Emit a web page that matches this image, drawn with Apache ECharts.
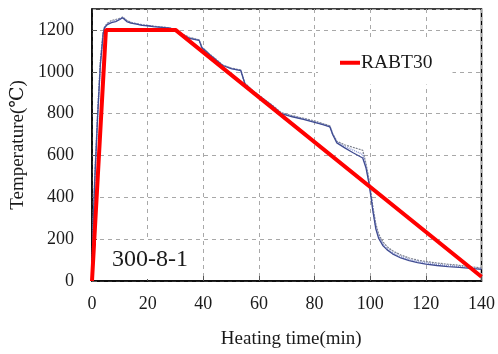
<!DOCTYPE html>
<html>
<head>
<meta charset="utf-8">
<script src="https://cdn.jsdelivr.net/npm/echarts@6/dist/echarts.min.js"></script>
<style>
html, body { margin: 0; padding: 0; background: #fff; }
#chart { width: 498px; height: 354px; }
</style>
</head>
<body>
<div id="chart"></div>
<script>
// RABT30 standard curve
var rabtTime = [0, 5, 30, 140];
var rabtTemp = [0, 1200, 1200, 20];

var tcTime = [0, 0.5, 1, 2, 3, 4, 4.5, 5.5, 7, 8.5, 10, 11, 12.5, 14, 16, 18, 20, 22, 25, 28, 29.5,
  32, 35, 38.5, 39.5, 42, 45, 47, 50, 53.5, 55, 58, 62, 65, 68, 72, 76, 80, 83, 85.5, 86.5, 88,
  91, 94, 97.3, 98.5, 99.5, 100.3, 101, 102, 103, 104.5, 106, 108, 111, 114, 117, 120, 124, 128,
  132, 136, 140];
var tc1Temp = [20, 300, 480, 780, 1030, 1180, 1210, 1225, 1235, 1240, 1250, 1258, 1240, 1232, 1228,
  1222, 1220, 1216, 1212, 1208, 1200, 1180, 1160, 1150, 1115, 1085, 1052, 1030, 1015, 1005, 940,
  905, 865, 835, 800, 785, 772, 758, 747, 737, 700, 660, 635, 612, 588, 540, 470, 400, 330, 250,
  205, 170, 150, 130, 110, 97, 88, 81, 74, 69, 65, 60, 56];
var tc2Temp = [20, 320, 500, 800, 1050, 1190, 1215, 1232, 1245, 1250, 1255, 1262, 1246, 1236, 1230,
  1225, 1222, 1218, 1214, 1210, 1202, 1184, 1165, 1152, 1118, 1088, 1055, 1032, 1018, 1008, 945,
  908, 868, 838, 805, 790, 778, 765, 752, 742, 705, 668, 650, 638, 625, 560, 490, 420, 350, 275,
  225, 188, 165, 145, 124, 110, 100, 93, 86, 80, 75, 68, 62];
var tc3Temp = [20, 310, 490, 790, 1040, 1185, 1212, 1228, 1240, 1245, 1252, 1260, 1243, 1234, 1229,
  1224, 1221, 1217, 1213, 1209, 1201, 1182, 1162, 1151, 1116, 1086, 1053, 1031, 1016, 1006, 942,
  906, 866, 836, 802, 787, 775, 761, 749, 739, 702, 664, 642, 625, 605, 550, 480, 410, 340, 262,
  215, 178, 157, 137, 117, 103, 94, 87, 80, 74, 70, 64, 59];

var xTicks = [0, 20, 40, 60, 80, 100, 120, 140];
var yTicks = [0, 200, 400, 600, 800, 1000, 1200];

function pairs(xs, ys) {
  return xs.map(function (x, i) { return [x, ys[i]]; });
}

var serif = "'Liberation Serif', 'DejaVu Serif', 'Noto Sans CJK SC', serif";
var chart = echarts.init(document.getElementById("chart"));

var option = {
  animation: false,
  textStyle: { fontFamily: serif },
  title: {
    text: "300-8-1",
    left: 96,
    top: 240,
    padding: [8, 15, 7, 16],
    backgroundColor: "#fff",
    textStyle: { fontFamily: serif, fontSize: 24, fontWeight: "normal", color: "#1a1a1a" }
  },
  legend: {
    data: ["RABT30"],
    left: 318,
    top: 41,
    padding: [12, 20, 12, 22],
    backgroundColor: "#fff",
    itemWidth: 20,
    itemHeight: 4,
    itemGap: 4,
    icon: "rect",
    textStyle: { fontFamily: serif, fontSize: 19.5, color: "#1a1a1a", padding: [0, 0, 0, -4] }
  },
  grid: {
    left: 92,
    right: 16,
    top: 9,
    bottom: 72,
    show: true,
    borderColor: "#000",
    borderWidth: 1.5
  },
  xAxis: {
    type: "value",
    min: 0,
    max: 140,
    interval: 20,
    name: "Heating time(min)",
    nameLocation: "middle",
    nameGap: 49,
    nameTextStyle: { fontFamily: serif, fontSize: 19, color: "#1a1a1a", padding: [0, 0, 0, 9] },
    axisLine: { lineStyle: { color: "#000", width: 1.5 } },
    axisTick: { inside: true, length: 5, lineStyle: { color: "#555" } },
    axisLabel: {
      margin: 14,
      fontSize: 18,
      color: "#1a1a1a",
      formatter: function (v) { return xTicks.indexOf(v) >= 0 ? v : ""; }
    },
    splitLine: { show: true, lineStyle: { color: "#a8a8a8", type: [4, 4], width: 1 } }
  },
  yAxis: {
    type: "value",
    min: 0,
    max: 1300,
    interval: 200,
    name: "Temperature(℃)",
    nameLocation: "middle",
    nameGap: 57,
    nameTextStyle: { fontFamily: serif, fontSize: 19, color: "#1a1a1a" },
    axisLine: { show: true, lineStyle: { color: "#000", width: 1.5 } },
    axisTick: { show: true, inside: true, length: 5, lineStyle: { color: "#555" } },
    axisLabel: {
      margin: 18,
      fontSize: 18,
      color: "#1a1a1a",
      showMaxLabel: false,
      formatter: function (v) { return yTicks.indexOf(v) >= 0 ? v : ""; }
    },
    splitLine: { show: true, lineStyle: { color: "#a8a8a8", type: [4, 4], width: 1 } }
  },
  series: [
    {
      name: "TC2",
      type: "line",
      showSymbol: false,
      data: pairs(tcTime, tc2Temp),
      lineStyle: { color: "#7a7f8c", width: 1.2, type: [2, 1] },
      z: 2
    },
    {
      name: "TC3",
      type: "line",
      showSymbol: false,
      data: pairs(tcTime, tc3Temp),
      lineStyle: { color: "#8d9ad4", width: 1.5, type: [1, 1] },
      z: 2
    },
    {
      name: "TC1",
      type: "line",
      showSymbol: false,
      data: pairs(tcTime, tc1Temp),
      lineStyle: { color: "#404c92", width: 1.3 },
      z: 3
    },
    {
      name: "RABT30",
      type: "line",
      showSymbol: false,
      data: pairs(rabtTime, rabtTemp),
      itemStyle: { color: "#ff0000" },
      lineStyle: { color: "#ff0000", width: 4 },
      z: 4
    }
  ]
};

chart.setOption(option);
</script>
</body>
</html>
